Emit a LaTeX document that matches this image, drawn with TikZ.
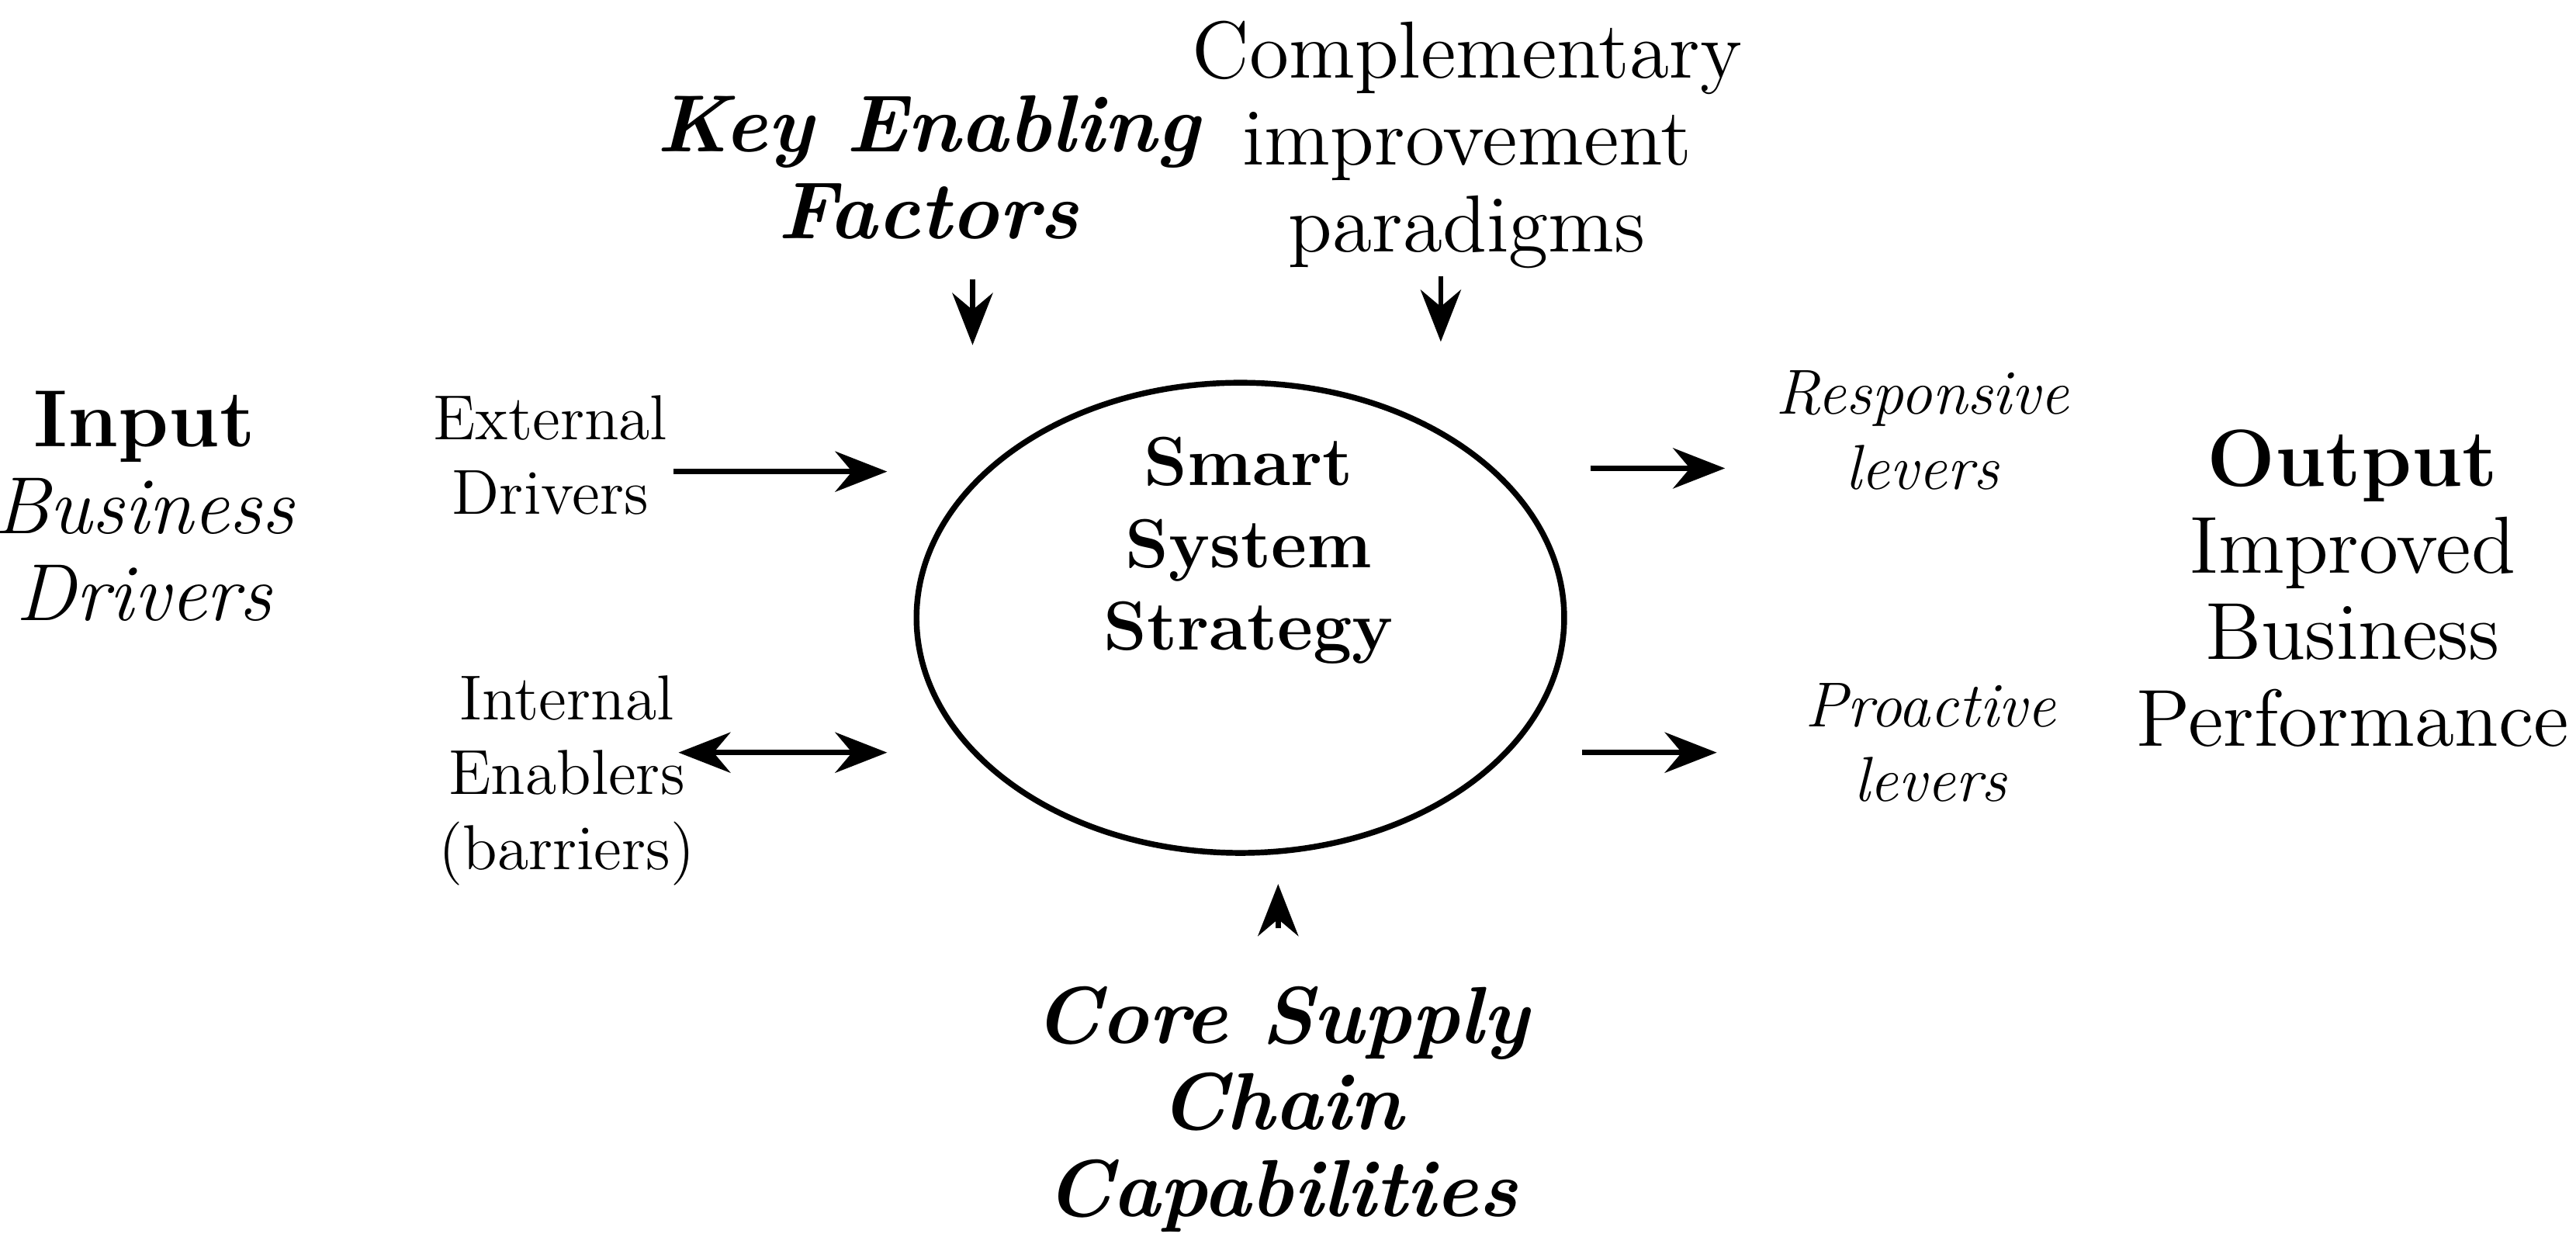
\documentclass[tikz,border=0pt]{standalone}
\usetikzlibrary{arrows.meta,shapes.geometric}
\begin{document}
\begin{tikzpicture}[x=0.01cm,y=-0.01cm,
  big/.style={font=\fontsize{14}{15}\selectfont,align=center,inner sep=0pt},
  small/.style={font=\fontsize{11}{13}\selectfont,align=center,inner sep=0pt},
  arr/.style={-{Stealth[length=9pt,width=7pt]},line width=0.9pt}]
\useasboundingbox (0,0) rectangle (1568,761);
\node[draw,ellipse,line width=1pt,minimum width=3.94cm,minimum height=2.86cm,inner sep=0pt] (e) at (755,376) {};
\node[big,font=\fontsize{12}{14.2}\selectfont\bfseries] (sss) at (760,335) {Smart\\System\\Strategy};
\node[big] (inp) at (88,308) {\textbf{Input}\\\textit{Business}\\\textit{Drivers}};
\node[small] (ext) at (335,277) {External\\Drivers};
\node[small] (int) at (345,475) {Internal\\Enablers\\(barriers)};
\node[big,font=\fontsize{14}{15}\selectfont\bfseries\itshape] (kef) at (565,102) {Key Enabling\\Factors};
\node[big] (cip) at (893,88) {Complementary\\improvement\\paradigms};
\node[small,font=\fontsize{11}{13}\selectfont\itshape] (rl) at (1170,262) {Responsive\\levers};
\node[small,font=\fontsize{11}{13}\selectfont\itshape] (pl) at (1175,452) {Proactive\\levers};
\node[big] (out) at (1432,358) {\textbf{Output}\\Improved\\Business\\Performance};
\node[big,font=\fontsize{14}{15}\selectfont\bfseries\itshape] (core) at (780,675) {Core Supply\\Chain\\Capabilities};
\coordinate (a1) at (410,287); \coordinate (a1e) at (540,287);
\coordinate (a2) at (413,458); \coordinate (a2e) at (540,458);
\coordinate (a3) at (592,170); \coordinate (a3e) at (592,210);
\coordinate (a4) at (877,168); \coordinate (a4e) at (877,208);
\coordinate (a5) at (968,285); \coordinate (a5e) at (1050,285);
\coordinate (a6) at (963,458); \coordinate (a6e) at (1045,458);
\coordinate (a7) at (778,565); \coordinate (a7e) at (778,538);
\draw[arr] (a1) -- (a1e);
\draw[arr,{Stealth[length=9pt,width=7pt]}-{Stealth[length=9pt,width=7pt]}] (a2) -- (a2e);
\draw[arr] (a3) -- (a3e);
\draw[arr] (a4) -- (a4e);
\draw[arr] (a5) -- (a5e);
\draw[arr] (a6) -- (a6e);
\draw[arr] (a7) -- (a7e);
\end{tikzpicture}
\end{document}
